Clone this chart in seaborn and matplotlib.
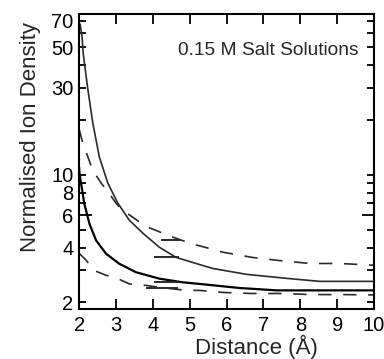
import matplotlib
matplotlib.use("Agg")
import matplotlib.pyplot as plt
import matplotlib.ticker as mticker
import seaborn as sns

sns.set_theme(style="ticks")
plt.rcParams['font.family'] = ['Liberation Sans', 'DejaVu Sans']

# Series
x_solid_upper = [2.0, 2.03, 2.08, 2.11, 2.16, 2.24, 2.37, 2.55, 2.78, 3.05, 3.36, 3.73,
                 4.18, 4.63, 5.35, 5.63, 6.55, 7.64, 8.53, 10.0]
y_solid_upper = [68, 66.5, 57, 46.7, 38.6, 29.2, 19.3, 12.5, 9.0, 7.0, 5.65, 4.79,
                 4.01, 3.53, 3.19, 3.07, 2.85, 2.71, 2.61, 2.61]

x_solid_lower = [2.0, 2.01, 2.14, 2.28, 2.46, 2.73, 3.09, 3.54, 4.18, 4.81, 5.5, 6.36,
                 7.37, 10.0]
y_solid_lower = [11.0, 10.2, 6.97, 5.4, 4.38, 3.7, 3.26, 2.93, 2.70, 2.58, 2.5, 2.40,
                 2.33, 2.33]

x_dash_upper = [2.0, 2.1, 2.24, 2.37, 2.6, 2.78, 3.0, 3.14, 3.54, 3.82, 4.09, 4.4, 5.04,
                5.4, 5.9, 6.7, 7.45, 8.27, 9.07, 10.0]
y_dash_upper = [17.8, 14.9, 12.5, 10.6, 9.0, 8.1, 7.0, 6.5, 5.7, 5.2, 4.96, 4.67, 4.2,
                4.02, 3.77, 3.53, 3.39, 3.27, 3.27, 3.2]

x_dash_lower = [2.0, 2.19, 2.41, 2.73, 3.05, 3.36, 3.82, 4.18, 4.9, 5.26, 5.9, 6.7, 7.45,
                8.3, 9.1, 10.0]
y_dash_lower = [3.72, 3.41, 2.99, 2.82, 2.70, 2.53, 2.48, 2.42, 2.33, 2.33, 2.27, 2.24,
                2.24, 2.21, 2.21, 2.2]

# short horizontal strokes near x = 4-5
seg_y = [4.42, 3.55, 2.58, 2.39]
seg_x0 = [4.22, 4.04, 4.04, 3.82]
seg_x1 = [4.76, 4.72, 4.68, 4.68]

x_ticks = [2, 3, 4, 5, 6, 7, 8, 9, 10]
y_major = [2, 4, 6, 8, 10, 30, 50, 70]
y_minor = [3, 5, 7, 9, 20, 40, 60]

title_text = "0.15 M Salt Solutions"

fig = plt.figure(figsize=(3.84, 3.59), dpi=100)
ax = fig.add_axes([0.206, 0.139, 0.768, 0.822])

gray = "#2a2a2a"
sns.lineplot(x=x_solid_upper, y=y_solid_upper, ax=ax, color=gray, lw=1.2, sort=False)
sns.lineplot(x=x_solid_lower, y=y_solid_lower, ax=ax, color="black", lw=1.6, sort=False)
sns.lineplot(x=x_dash_upper, y=y_dash_upper, ax=ax, color=gray, lw=1.2, sort=False)
ax.lines[-1].set_dashes((8, 7))
sns.lineplot(x=x_dash_lower, y=y_dash_lower, ax=ax, color=gray, lw=1.2, sort=False)
ax.lines[-1].set_dashes((8, 7))
ax.hlines(seg_y, seg_x0, seg_x1, colors=gray, lw=1.4)

ax.set_yscale("log")
ax.set_xlim(2, 10)
ax.set_ylim(1.84, 76)
ax.xaxis.set_major_locator(mticker.FixedLocator(x_ticks))
ax.set_xticklabels([str(t) for t in x_ticks])
ax.yaxis.set_major_locator(mticker.FixedLocator(y_major))
ax.yaxis.set_minor_locator(mticker.FixedLocator(y_minor))
ax.yaxis.set_major_formatter(mticker.FixedFormatter([str(t) for t in y_major]))
ax.yaxis.set_minor_formatter(mticker.NullFormatter())

ax.tick_params(axis="both", which="both", direction="in", top=True, right=True,
               colors="black", labelsize=14.5, width=1.3)
ax.tick_params(axis="x", which="major", length=7, pad=5)
ax.tick_params(axis="y", which="major", length=5, pad=4)
ax.tick_params(axis="y", which="minor", length=5)
for t in ax.yaxis.get_major_ticks():
    if t.get_loc() == 10:
        t.tick1line.set_markersize(9)
        t.tick2line.set_markersize(9)

for s in ax.spines.values():
    s.set_linewidth(1.5)
    s.set_color("black")

ax.set_xlabel("Distance (Å)", fontsize=16)
ax.set_ylabel("Normalised Ion Density", fontsize=16)
ax.xaxis.label.set_va("center")
ax.yaxis.label.set_va("center")
ax.xaxis.set_label_coords(0.603, -0.129)
ax.yaxis.set_label_coords(-0.166, 0.583)
ax.text(0.946, 0.875, title_text, transform=ax.transAxes, ha="right", va="center",
        fontsize=13.8)

fig.savefig("out.png", dpi=100)
